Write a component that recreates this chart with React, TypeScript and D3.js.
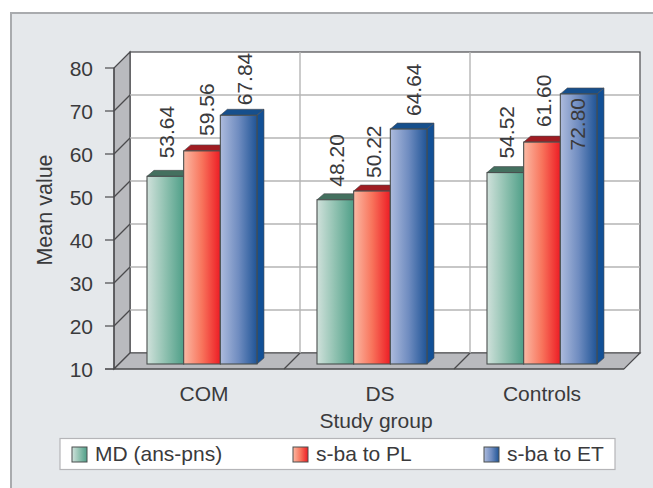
import * as d3 from 'd3'

const categories = ['COM', 'DS', 'Controls']
const seriesNames = ['MD (ans-pns)', 's-ba to PL', 's-ba to ET']
const mdValues = [53.64, 48.2, 54.52]
const plValues = [59.56, 50.22, 61.6]
const etValues = [67.84, 64.64, 72.8]
const yTicks = [10, 20, 30, 40, 50, 60, 70, 80]

const seriesValues = [mdValues, plValues, etValues]
const colors = [
  { light: '#d0e1db', mid: '#8fc1b0', dark: '#4f9f88', top: '#44705f', side: '#2f6f5c' },
  { light: '#fbb9a4', mid: '#f8745c', dark: '#ed1c24', top: '#a01c22', side: '#b5161c' },
  { light: '#adbbdd', mid: '#6f8cc0', dark: '#1f5496', top: '#164f8c', side: '#125096' }
]

// hand placement of the value labels, per category then series
const labelDx = [[1.5, 4, 6], [1.5, 1, 4.5], [1.5, 1, -1.5]]
const labelGap = [[18, 15, 10], [13, 13, 13], [14, 15, 4]]
const categoryDx = [90, 96, 88]
const legendX = [72, 293, 484]

const W = 653, H = 488
const depthX = 16, depthY = 16
const barDepthX = 7, barDepthY = 6
const font = 'Liberation Sans, Arial, sans-serif'
const textColor = '#3a3a3c'
const fs = 21

export default function App() {
  // front plane of the axis
  const left = 114, right = 624
  const y = d3.scaleLinear().domain([10, 80]).range([369, 68])
  const backY = (v: number) => y(v) - depthY
  const x0 = d3.scaleBand().domain(categories).range([left, right])
  const x1 = d3.scaleBand().domain(seriesNames).range([33, 143])
  const barBase = (v: number) => y(v) - 5
  const backLeft = left + depthX, backRight = right + depthX
  const catBack = categories.slice(1).map(c => x0(c)!)

  return (
    <svg width={W} height={H} viewBox={`0 0 ${W} ${H}`}
      style={{ position: 'absolute', left: 0, top: 0, fontFamily: font }}>
      <defs>
        {colors.map((c, i) => (
          <linearGradient key={i} id={`bar${i}`} x1="0" x2="1" y1="0" y2="0">
            <stop offset="0%" stopColor={c.light} />
            <stop offset="50%" stopColor={c.mid} />
            <stop offset="100%" stopColor={c.dark} />
          </linearGradient>
        ))}
      </defs>
      <rect x={0} y={0} width={W} height={H} fill="#ffffff" />
      {/* panel runs off the right and bottom edges of the picture */}
      <rect x={11} y={13} width={W} height={H} fill="#e5e8eb" stroke="#a9abae" strokeWidth={2} />

      {/* back wall */}
      <rect x={backLeft} y={backY(80)} width={backRight - backLeft} height={backY(10) - backY(80)}
        fill="#ffffff" stroke="#4a4a4d" strokeWidth={1.2} />
      {/* left wall */}
      <path d={`M${left},${y(80)}L${backLeft},${backY(80)}L${backLeft},${backY(10)}L${left},${y(10)}Z`}
        fill="#b9babe" stroke="#4a4a4d" strokeWidth={1.2} />
      {/* floor */}
      <path d={`M${left},${y(10)}L${backLeft},${backY(10)}L${backRight},${backY(10)}L${right},${y(10)}Z`}
        fill="#b9babe" stroke="#4a4a4d" strokeWidth={1.2} />

      {yTicks.slice(1, -1).map(t => (
        <g key={t}>
          <line x1={backLeft} x2={backRight} y1={backY(t)} y2={backY(t)} stroke="#b5b5b5" strokeWidth={1.4} />
          <line x1={left} x2={backLeft} y1={y(t)} y2={backY(t)} stroke="#4a4a4d" strokeWidth={1.2} />
        </g>
      ))}
      {catBack.map(c => (
        <g key={c}>
          <line x1={c + depthX} x2={c + depthX} y1={backY(80)} y2={backY(10)} stroke="#b5b5b5" strokeWidth={1.4} />
          <line x1={c} x2={c + depthX} y1={y(10)} y2={backY(10)} stroke="#4a4a4d" strokeWidth={1.2} />
        </g>
      ))}
      <line x1={left} x2={left} y1={y(80)} y2={y(10)} stroke="#4a4a4d" strokeWidth={1.2} />

      {yTicks.map(t => (
        <g key={t}>
          <line x1={left - 9} x2={left} y1={y(t)} y2={y(t)} stroke="#4a4a4d" strokeWidth={1.2} />
          <text x={93} y={y(t)} dy="0.36em" textAnchor="end" fontSize={fs} fill={textColor}>{t}</text>
        </g>
      ))}
      <line x1={left - 9} x2={right} y1={y(10)} y2={y(10)} stroke="#4a4a4d" strokeWidth={1.2} />

      {categories.map((cat, ci) => seriesNames.map((s, si) => {
        const v = seriesValues[si][ci]
        const c = colors[si]
        const bw = x1.bandwidth()
        const xa = x0(cat)! + x1(s)!
        const xb = xa + bw
        const yt = barBase(v)
        const yb = barBase(10)
        const labelInside = v > 70
        const lx = xa + bw / 2 + labelDx[ci][si] + 7.5
        return (
          <g key={cat + s}>
            <path d={`M${xa},${yt}L${xa + barDepthX},${yt - barDepthY}L${xb + barDepthX},${yt - barDepthY}L${xb},${yt}Z`}
              fill={c.top} stroke="#4a4a4d" strokeWidth={0.6} />
            <path d={`M${xb},${yt}L${xb + barDepthX},${yt - barDepthY}L${xb + barDepthX},${yb - barDepthY}L${xb},${yb}Z`}
              fill={c.side} stroke="#4a4a4d" strokeWidth={0.6} />
            <rect x={xa} y={yt} width={bw} height={yb - yt} fill={`url(#bar${si})`} stroke="#4a4f4e" strokeWidth={1.1} />
            <text transform={`translate(${lx},${labelInside ? yt + labelGap[ci][si] : yt - labelGap[ci][si]}) rotate(-90)`}
              textAnchor={labelInside ? 'end' : 'start'} fontSize={fs} fill={textColor}>
              {v.toFixed(2)}
            </text>
          </g>
        )
      }))}

      {categories.map((cat, i) => (
        <text key={cat} x={x0(cat)! + categoryDx[i]} y={401} textAnchor="middle" fontSize={fs} fill={textColor}>{cat}</text>
      ))}
      <text x={376} y={428} textAnchor="middle" fontSize={fs} fill={textColor}>Study group</text>
      <text transform="translate(52,210) rotate(-90)" textAnchor="middle" fontSize={21.5} fill={textColor}>Mean value</text>

      {/* legend */}
      <rect x={60} y={438.5} width={555} height={31} fill="#ffffff" stroke="#b5b5b8" strokeWidth={1.2} />
      {seriesNames.map((s, i) => (
        <g key={s}>
          <rect x={legendX[i]} y={447} width={15} height={15} fill={`url(#bar${i})`} stroke="#4a4f4e" strokeWidth={1} />
          <text x={legendX[i] + 23} y={461} fontSize={fs} fill={textColor}>{s}</text>
        </g>
      ))}
    </svg>
  )
}
